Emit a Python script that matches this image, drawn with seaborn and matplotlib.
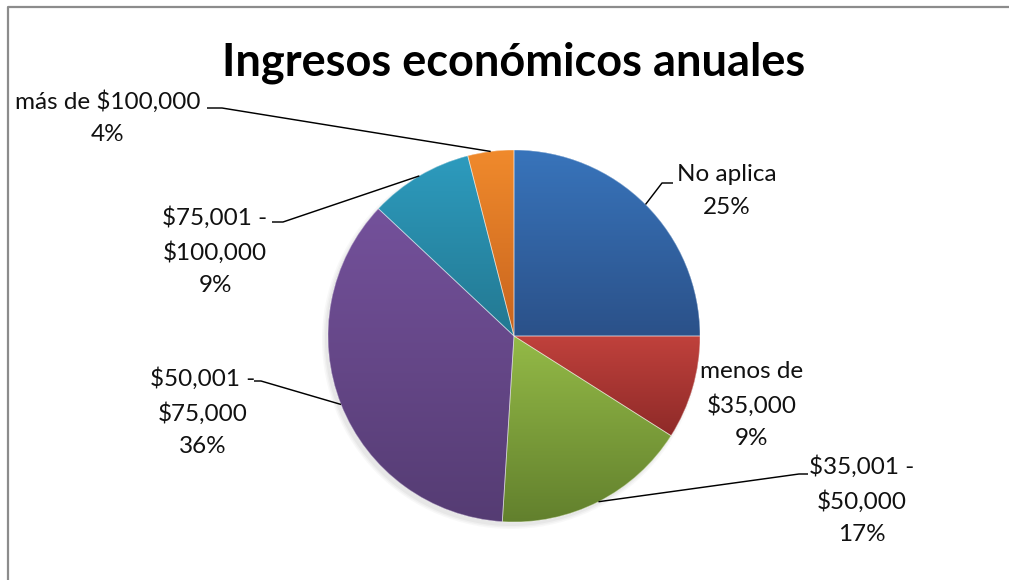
import numpy as np
import matplotlib
matplotlib.use("Agg")
import matplotlib.pyplot as plt
import seaborn as sns
from matplotlib.colors import to_rgb

# Annual income distribution
categories = [
    "No aplica",
    "menos de\n$35,000",
    "$35,001 -\n$50,000",
    "$50,001 -\n$75,000",
    "$75,001 -\n$100,000",
    "más de $100,000",
]
percentages = [25, 9, 17, 36, 9, 4]
title = "Ingresos económicos anuales"

sns.set_theme(style="white")
plt.rcParams["font.family"] = ["Lato", "DejaVu Sans"]

W, H = 1009, 580
fig = plt.figure(figsize=(W / 100, H / 100), dpi=100)
ax = fig.add_axes([0, 0, 1, 1])

# pixel-style layout helpers (y measured from the top edge)
def P(x, y):
    return x, H - y

cx, cy = P(514, 336)
radius = 186

# gradient colours per slice: lighter at top, darker at bottom
top_cols = ["#3874BB", "#C0413C", "#94BA47", "#74519B", "#2D9BBE", "#F08A2C"]
bot_cols = ["#2B5189", "#8E2A28", "#62802D", "#553C73", "#237891", "#C8641E"]
palette = sns.color_palette(top_cols)

# soft shadow underneath the pie
for k, a in enumerate([0.05, 0.06, 0.08]):
    sh = plt.Circle((cx - 3, cy - 4), radius + 3 - k * 1.5, color="#808080",
                    alpha=a, lw=0, zorder=0)
    ax.add_patch(sh)

wedges, _ = ax.pie(percentages, colors=palette, startangle=90, counterclock=False,
                   center=(cx, cy), radius=radius,
                   wedgeprops=dict(linewidth=0, zorder=1))

for w, c0, c1 in zip(wedges, top_cols, bot_cols):
    bb = w.get_path().get_extents()
    t = np.linspace(0, 1, 256)[:, None]
    grad = (1 - t) * np.array(to_rgb(c0)) + t * np.array(to_rgb(c1))
    img = ax.imshow(grad[:, None, :], extent=(bb.x0, bb.x1, bb.y0, bb.y1),
                    origin="upper", aspect="auto", zorder=2, interpolation="bilinear")
    img.set_clip_path(w)

# thin light separators between slices
ax.pie(percentages, colors=["none"] * len(percentages), startangle=90,
       counterclock=False, center=(cx, cy), radius=radius,
       wedgeprops=dict(linewidth=0.6, edgecolor=(1, 1, 1, 0.45), zorder=3))

# data labels and leader lines
label_pos = [(727, 191), (752, 405), (862, 500), (203, 412), (215, 251), (108, 118)]
elbows = [
    [(673, 183), (662, 183)],
    None,
    [(808, 474), (799, 474)],
    [(254, 381), (261, 381)],
    [(272, 222), (283, 222)],
    [(207, 108), (222, 108)],
]

for w, cat, pct, pos, elb in zip(wedges, categories, percentages, label_pos, elbows):
    ax.text(*P(*pos), f"{cat}\n{pct}%", ha="center", va="center",
            multialignment="center", fontsize=17.5, color="#111111",
            linespacing=1.66, zorder=5)
    if elb is not None:
        mid = np.deg2rad((w.theta1 + w.theta2) / 2)
        end = (cx + radius * np.cos(mid), cy + radius * np.sin(mid))
        pts = [P(*p) for p in elb] + [end]
        xs, ys = zip(*pts)
        ax.plot(xs, ys, color="black", lw=1.05, zorder=4, solid_capstyle="butt")

ax.text(*P(514, 75), title, ha="center", va="baseline", fontsize=32.5,
        fontweight="bold", color="black", zorder=5)

# chart area border
ax.plot([8, 8, W], [0, H - 7, H - 7], color="#8c8c8c", lw=1.6, zorder=6)

ax.set_xlim(0, W)
ax.set_ylim(0, H)
ax.set_aspect("equal")
ax.axis("off")

fig.savefig("out.png", dpi=100, facecolor="white")
